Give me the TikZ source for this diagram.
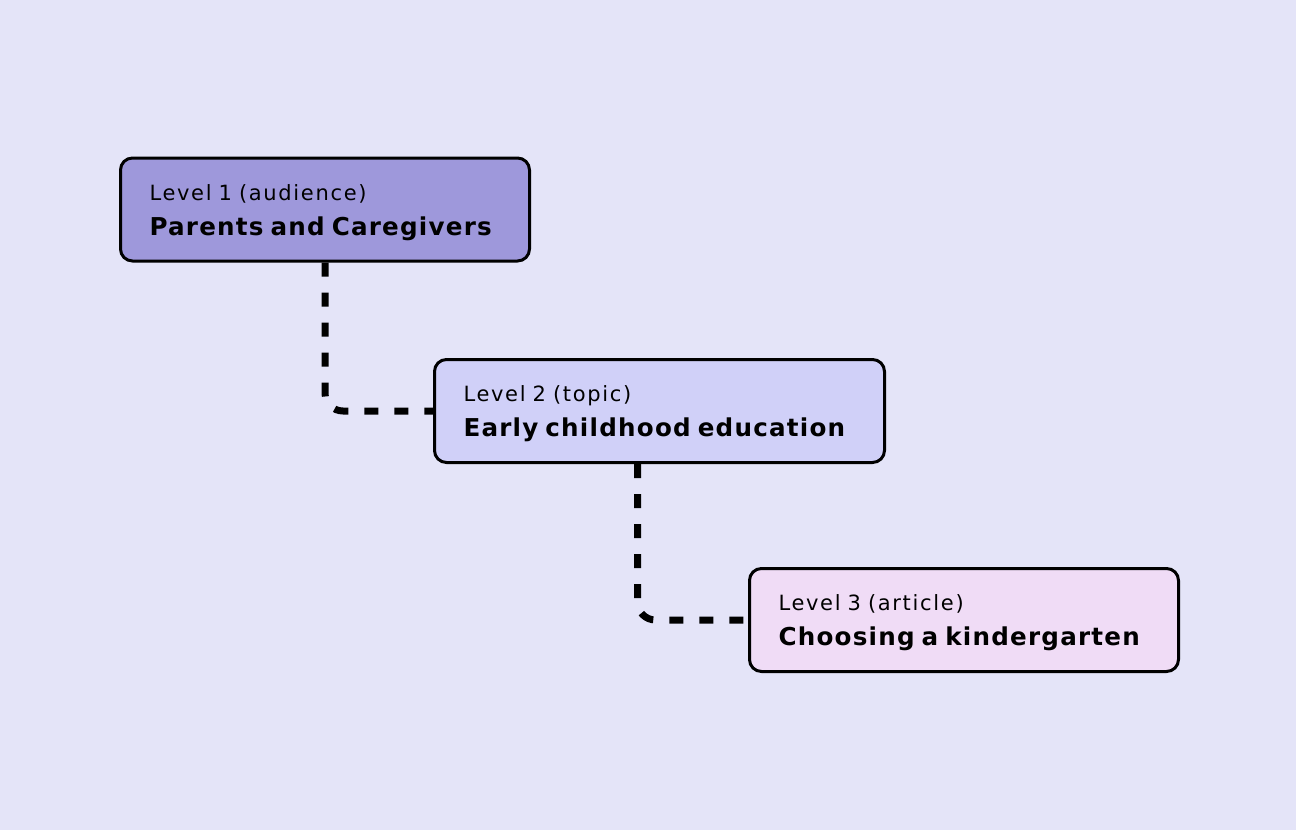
\documentclass[tikz,border=0pt]{standalone}
\usepackage{fontspec}
\setmainfont{DejaVu Sans}
\newfontfamily\levelfont[LetterSpace=8]{DejaVu Sans}
\newfontfamily\namefont[LetterSpace=5]{DejaVu Sans}
\usepackage{xcolor}
\definecolor{backlilac}{RGB}{228,228,248}
\definecolor{audiencefill}{RGB}{158,152,219}
\definecolor{topicfill}{RGB}{208,208,248}
\definecolor{articlefill}{RGB}{240,220,246}
\newcommand*{\levelbox}[2]{\rule{0pt}{11pt}{\levelfont\fontsize{10.5}{17}\selectfont #1}\\{\namefont\bfseries\fontsize{12.3}{17.5}\selectfont #2}}

\begin{document}
\begin{tikzpicture}[x=0.5pt,y=-0.5pt,
    levelnode/.style={draw=black,line width=1.5pt,rounded corners=6pt,anchor=west,
      align=left,inner xsep=14.5pt,inner ysep=0pt,minimum height=51.5pt,
      font=\fontsize{10.5}{17.5}\selectfont},
    dashlink/.style={line width=3.5pt,dash pattern=on 7pt off 8pt,rounded corners=9pt}]
    \fill[backlilac](0,0) rectangle (1296,830);
    \useasboundingbox(0,0) rectangle (1296,830);
    \node[levelnode,fill=audiencefill,text width=175.5pt] (audience) at (119,209.5)
      {\levelbox{Level 1 (audience)}{Parents and Caregivers}};
    \node[levelnode,fill=topicfill,text width=196pt] (topic) at (433,411)
      {\levelbox{Level 2 (topic)}{Early childhood education}};
    \node[levelnode,fill=articlefill,text width=185.5pt] (article) at (748,620)
      {\levelbox{Level 3 (article)}{Choosing a kindergarten}};
    \draw[dashlink](audience.south) |- (topic.west);
    \draw[dashlink]([xshift=-11pt]topic.south) |- (article.west);
  \end{tikzpicture}
\end{document}
